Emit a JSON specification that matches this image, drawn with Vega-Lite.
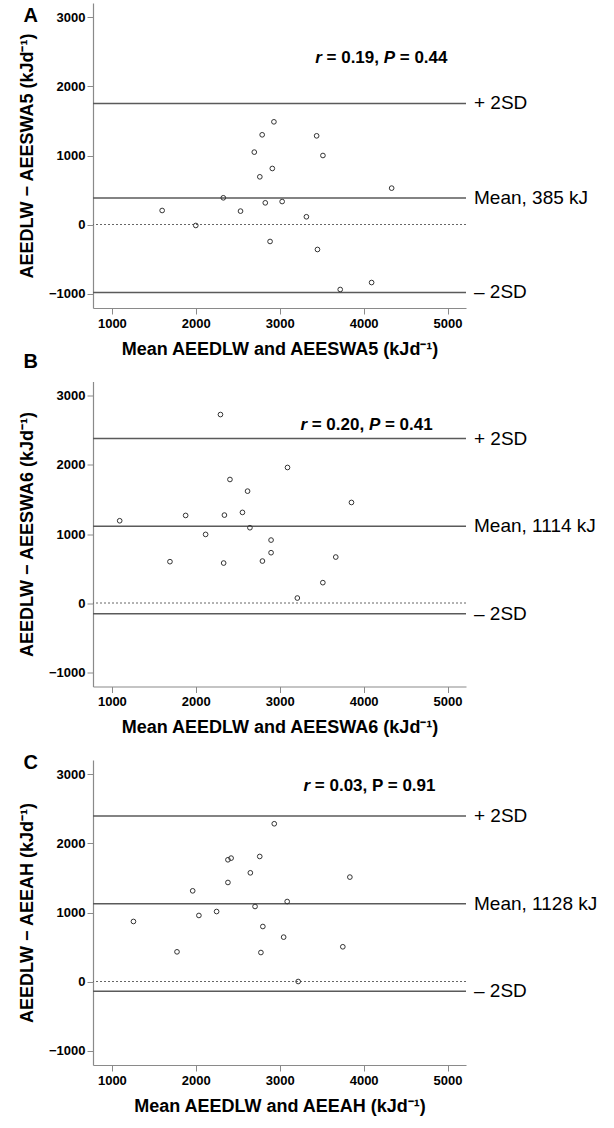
{
  "$schema": "https://vega.github.io/schema/vega-lite/v6.json",
  "background": "white",
  "padding": {"left": 18, "top": 3, "right": 2, "bottom": 2},
  "spacing": 73.5,
  "bounds": "flush",
  "config": {
    "view": {"stroke": null},
    "font": "Liberation Sans",
    "axis": {"grid": false, "domainColor": "#8a8a8a", "domainWidth": 1.2, "tickColor": "#8a8a8a", "tickSize": 6, "labelFont": "Liberation Sans", "labelFontSize": 13, "labelFontWeight": "bold", "labelColor": "#000000", "labelPadding": 2, "format": "d", "titleFont": "Liberation Sans", "titleFontSize": 18, "titleFontWeight": "bold", "titleColor": "#000000"},
    "axisX": {"labelPadding": 3, "titlePadding": 10, "titleFontSize": 18},
    "axisY": {"titlePadding": 12},
    "title": {"anchor": "start", "frame": "bounds", "fontSize": 20, "fontWeight": "bold", "font": "Liberation Sans", "color": "#000000", "offset": 0, "baseline": "alphabetic"}
  },
  "datasets": {
    "points": [
      {"panel": "A", "mean": 1599, "diff": 203},
      {"panel": "A", "mean": 2000, "diff": -14},
      {"panel": "A", "mean": 2328, "diff": 387},
      {"panel": "A", "mean": 2533, "diff": 194},
      {"panel": "A", "mean": 2697, "diff": 1049},
      {"panel": "A", "mean": 2763, "diff": 691},
      {"panel": "A", "mean": 2791, "diff": 1300},
      {"panel": "A", "mean": 2828, "diff": 314},
      {"panel": "A", "mean": 2885, "diff": -246},
      {"panel": "A", "mean": 2912, "diff": 812},
      {"panel": "A", "mean": 2931, "diff": 1488},
      {"panel": "A", "mean": 3029, "diff": 333},
      {"panel": "A", "mean": 3318, "diff": 112},
      {"panel": "A", "mean": 3440, "diff": 1285},
      {"panel": "A", "mean": 3450, "diff": -362},
      {"panel": "A", "mean": 3515, "diff": 1000},
      {"panel": "A", "mean": 3721, "diff": -942},
      {"panel": "A", "mean": 4095, "diff": -841},
      {"panel": "A", "mean": 4334, "diff": 527},
      {"panel": "B", "mean": 1093, "diff": 1192},
      {"panel": "B", "mean": 1692, "diff": 599},
      {"panel": "B", "mean": 1879, "diff": 1269},
      {"panel": "B", "mean": 2117, "diff": 994},
      {"panel": "B", "mean": 2294, "diff": 2731},
      {"panel": "B", "mean": 2332, "diff": 579},
      {"panel": "B", "mean": 2341, "diff": 1274},
      {"panel": "B", "mean": 2407, "diff": 1790},
      {"panel": "B", "mean": 2556, "diff": 1313},
      {"panel": "B", "mean": 2617, "diff": 1621},
      {"panel": "B", "mean": 2645, "diff": 1091},
      {"panel": "B", "mean": 2794, "diff": 608},
      {"panel": "B", "mean": 2897, "diff": 912},
      {"panel": "B", "mean": 2897, "diff": 729},
      {"panel": "B", "mean": 3093, "diff": 1964},
      {"panel": "B", "mean": 3210, "diff": 72},
      {"panel": "B", "mean": 3514, "diff": 295},
      {"panel": "B", "mean": 3668, "diff": 666},
      {"panel": "B", "mean": 3855, "diff": 1457},
      {"panel": "C", "mean": 1257, "diff": 870},
      {"panel": "C", "mean": 1776, "diff": 430},
      {"panel": "C", "mean": 1963, "diff": 1314},
      {"panel": "C", "mean": 2037, "diff": 957},
      {"panel": "C", "mean": 2248, "diff": 1014},
      {"panel": "C", "mean": 2383, "diff": 1764},
      {"panel": "C", "mean": 2383, "diff": 1435},
      {"panel": "C", "mean": 2421, "diff": 1788},
      {"panel": "C", "mean": 2650, "diff": 1575},
      {"panel": "C", "mean": 2706, "diff": 1087},
      {"panel": "C", "mean": 2762, "diff": 1812},
      {"panel": "C", "mean": 2776, "diff": 420},
      {"panel": "C", "mean": 2799, "diff": 797},
      {"panel": "C", "mean": 2935, "diff": 2286},
      {"panel": "C", "mean": 3047, "diff": 643},
      {"panel": "C", "mean": 3089, "diff": 1159},
      {"panel": "C", "mean": 3220, "diff": 0},
      {"panel": "C", "mean": 3752, "diff": 503},
      {"panel": "C", "mean": 3836, "diff": 1513}
    ],
    "lines": [
      {"panel": "A", "kind": "zero", "diff": 0, "label": ""},
      {"panel": "A", "kind": "upper", "diff": 1755, "label": "+ 2SD"},
      {"panel": "A", "kind": "mean", "diff": 385, "label": "Mean, 385 kJ"},
      {"panel": "A", "kind": "lower", "diff": -985, "label": "– 2SD"},
      {"panel": "B", "kind": "zero", "diff": 0, "label": ""},
      {"panel": "B", "kind": "upper", "diff": 2383, "label": "+ 2SD"},
      {"panel": "B", "kind": "mean", "diff": 1114, "label": "Mean, 1114 kJ"},
      {"panel": "B", "kind": "lower", "diff": -155, "label": "– 2SD"},
      {"panel": "C", "kind": "zero", "diff": 0, "label": ""},
      {"panel": "C", "kind": "upper", "diff": 2398, "label": "+ 2SD"},
      {"panel": "C", "kind": "mean", "diff": 1128, "label": "Mean, 1128 kJ"},
      {"panel": "C", "kind": "lower", "diff": -142, "label": "– 2SD"}
    ]
  },
  "vconcat": [
    {
      "width": 373, "height": 305,
      "title": {"text": "A", "dx": 5, "dy": 27},
      "layer": [
        {"data": {"name": "lines"}, "transform": [{"filter": "datum.panel === 'A' && datum.kind === 'zero'"}],
         "mark": {"type": "rule", "color": "#666666", "strokeWidth": 1, "strokeDash": [2, 2]},
         "encoding": {"y": {"field": "diff", "type": "quantitative", "scale": {"domain": [-1210, 3210], "nice": false, "zero": false}}}},
        {"data": {"name": "lines"}, "transform": [{"filter": "datum.panel === 'A' && datum.kind !== 'zero'"}],
         "mark": {"type": "rule", "color": "#5a5a5a", "strokeWidth": 1.5},
         "encoding": {"y": {"field": "diff", "type": "quantitative", "scale": {"domain": [-1210, 3210], "nice": false, "zero": false}}}},
        {"data": {"name": "lines"}, "transform": [{"filter": "datum.panel === 'A' && datum.kind !== 'zero'"}],
         "mark": {"type": "text", "align": "left", "baseline": "middle", "dx": 8, "fontSize": 19, "font": "Liberation Sans", "color": "#000000"},
         "encoding": {"x": {"datum": 5220, "type": "quantitative", "scale": {"domain": [775, 5220], "nice": false, "zero": false}},
                      "y": {"field": "diff", "type": "quantitative", "scale": {"domain": [-1210, 3210], "nice": false, "zero": false}},
                      "text": {"field": "label"}}},
        {"data": {"name": "points"}, "transform": [{"filter": "datum.panel === 'A'"}],
         "mark": {"type": "point", "shape": "circle", "filled": false, "size": 22, "stroke": "#333333", "strokeWidth": 1, "opacity": 1},
         "encoding": {"x": {"field": "mean", "type": "quantitative", "scale": {"domain": [775, 5220], "nice": false, "zero": false},
                            "axis": {"title": "Mean AEEDLW  and AEESWA5 (kJd⁻¹)", "values": [1000, 2000, 3000, 4000, 5000]}},
                      "y": {"field": "diff", "type": "quantitative", "scale": {"domain": [-1210, 3210], "nice": false, "zero": false},
                            "axis": {"title": "AEEDLW − AEESWA5 (kJd⁻¹)", "values": [-1000, 0, 1000, 2000, 3000]}}}},
        {"data": {"values": [{"label": "r"}]},
         "mark": {"type": "text", "align": "left", "baseline": "middle", "dx": -66, "fontSize": 17, "fontWeight": "bold", "fontStyle": "italic", "font": "Liberation Sans", "color": "#000000"},
         "encoding": {"x": {"datum": 4210, "type": "quantitative", "scale": {"domain": [775, 5220], "nice": false, "zero": false}},
                      "y": {"datum": 2416, "type": "quantitative", "scale": {"domain": [-1210, 3210], "nice": false, "zero": false}},
                      "text": {"field": "label"}}},
        {"data": {"values": [{"label": "= 0.19,"}]},
         "mark": {"type": "text", "align": "left", "baseline": "middle", "dx": -54.7, "fontSize": 17, "fontWeight": "bold", "font": "Liberation Sans", "color": "#000000"},
         "encoding": {"x": {"datum": 4210, "type": "quantitative", "scale": {"domain": [775, 5220], "nice": false, "zero": false}},
                      "y": {"datum": 2416, "type": "quantitative", "scale": {"domain": [-1210, 3210], "nice": false, "zero": false}},
                      "text": {"field": "label"}}},
        {"data": {"values": [{"label": "P"}]},
         "mark": {"type": "text", "align": "left", "baseline": "middle", "dx": 2.5, "fontSize": 17, "fontWeight": "bold", "fontStyle": "italic", "font": "Liberation Sans", "color": "#000000"},
         "encoding": {"x": {"datum": 4210, "type": "quantitative", "scale": {"domain": [775, 5220], "nice": false, "zero": false}},
                      "y": {"datum": 2416, "type": "quantitative", "scale": {"domain": [-1210, 3210], "nice": false, "zero": false}},
                      "text": {"field": "label"}}},
        {"data": {"values": [{"label": "= 0.44"}]},
         "mark": {"type": "text", "align": "left", "baseline": "middle", "dx": 18.5, "fontSize": 17, "fontWeight": "bold", "font": "Liberation Sans", "color": "#000000"},
         "encoding": {"x": {"datum": 4210, "type": "quantitative", "scale": {"domain": [775, 5220], "nice": false, "zero": false}},
                      "y": {"datum": 2416, "type": "quantitative", "scale": {"domain": [-1210, 3210], "nice": false, "zero": false}},
                      "text": {"field": "label"}}}
      ]
    },
    {
      "width": 373, "height": 305,
      "title": {"text": "B", "dx": 5, "dy": -6},
      "layer": [
        {"data": {"name": "lines"}, "transform": [{"filter": "datum.panel === 'B' && datum.kind === 'zero'"}],
         "mark": {"type": "rule", "color": "#666666", "strokeWidth": 1, "strokeDash": [2, 2]},
         "encoding": {"y": {"field": "diff", "type": "quantitative", "scale": {"domain": [-1210, 3210], "nice": false, "zero": false}}}},
        {"data": {"name": "lines"}, "transform": [{"filter": "datum.panel === 'B' && datum.kind !== 'zero'"}],
         "mark": {"type": "rule", "color": "#5a5a5a", "strokeWidth": 1.5},
         "encoding": {"y": {"field": "diff", "type": "quantitative", "scale": {"domain": [-1210, 3210], "nice": false, "zero": false}}}},
        {"data": {"name": "lines"}, "transform": [{"filter": "datum.panel === 'B' && datum.kind !== 'zero'"}],
         "mark": {"type": "text", "align": "left", "baseline": "middle", "dx": 8, "fontSize": 19, "font": "Liberation Sans", "color": "#000000"},
         "encoding": {"x": {"datum": 5220, "type": "quantitative", "scale": {"domain": [775, 5220], "nice": false, "zero": false}},
                      "y": {"field": "diff", "type": "quantitative", "scale": {"domain": [-1210, 3210], "nice": false, "zero": false}},
                      "text": {"field": "label"}}},
        {"data": {"name": "points"}, "transform": [{"filter": "datum.panel === 'B'"}],
         "mark": {"type": "point", "shape": "circle", "filled": false, "size": 22, "stroke": "#333333", "strokeWidth": 1, "opacity": 1},
         "encoding": {"x": {"field": "mean", "type": "quantitative", "scale": {"domain": [775, 5220], "nice": false, "zero": false},
                            "axis": {"title": "Mean AEEDLW  and AEESWA6 (kJd⁻¹)", "values": [1000, 2000, 3000, 4000, 5000]}},
                      "y": {"field": "diff", "type": "quantitative", "scale": {"domain": [-1210, 3210], "nice": false, "zero": false},
                            "axis": {"title": "AEEDLW − AEESWA6 (kJd⁻¹)", "values": [-1000, 0, 1000, 2000, 3000]}}}},
        {"data": {"values": [{"label": "r"}]},
         "mark": {"type": "text", "align": "left", "baseline": "middle", "dx": -66, "fontSize": 17, "fontWeight": "bold", "fontStyle": "italic", "font": "Liberation Sans", "color": "#000000"},
         "encoding": {"x": {"datum": 4033, "type": "quantitative", "scale": {"domain": [775, 5220], "nice": false, "zero": false}},
                      "y": {"datum": 2582, "type": "quantitative", "scale": {"domain": [-1210, 3210], "nice": false, "zero": false}},
                      "text": {"field": "label"}}},
        {"data": {"values": [{"label": "= 0.20,"}]},
         "mark": {"type": "text", "align": "left", "baseline": "middle", "dx": -54.7, "fontSize": 17, "fontWeight": "bold", "font": "Liberation Sans", "color": "#000000"},
         "encoding": {"x": {"datum": 4033, "type": "quantitative", "scale": {"domain": [775, 5220], "nice": false, "zero": false}},
                      "y": {"datum": 2582, "type": "quantitative", "scale": {"domain": [-1210, 3210], "nice": false, "zero": false}},
                      "text": {"field": "label"}}},
        {"data": {"values": [{"label": "P"}]},
         "mark": {"type": "text", "align": "left", "baseline": "middle", "dx": 2.5, "fontSize": 17, "fontWeight": "bold", "fontStyle": "italic", "font": "Liberation Sans", "color": "#000000"},
         "encoding": {"x": {"datum": 4033, "type": "quantitative", "scale": {"domain": [775, 5220], "nice": false, "zero": false}},
                      "y": {"datum": 2582, "type": "quantitative", "scale": {"domain": [-1210, 3210], "nice": false, "zero": false}},
                      "text": {"field": "label"}}},
        {"data": {"values": [{"label": "= 0.41"}]},
         "mark": {"type": "text", "align": "left", "baseline": "middle", "dx": 18.5, "fontSize": 17, "fontWeight": "bold", "font": "Liberation Sans", "color": "#000000"},
         "encoding": {"x": {"datum": 4033, "type": "quantitative", "scale": {"domain": [775, 5220], "nice": false, "zero": false}},
                      "y": {"datum": 2582, "type": "quantitative", "scale": {"domain": [-1210, 3210], "nice": false, "zero": false}},
                      "text": {"field": "label"}}}
      ]
    },
    {
      "width": 373, "height": 305,
      "title": {"text": "C", "dx": 5, "dy": 17},
      "layer": [
        {"data": {"name": "lines"}, "transform": [{"filter": "datum.panel === 'C' && datum.kind === 'zero'"}],
         "mark": {"type": "rule", "color": "#666666", "strokeWidth": 1, "strokeDash": [2, 2]},
         "encoding": {"y": {"field": "diff", "type": "quantitative", "scale": {"domain": [-1210, 3210], "nice": false, "zero": false}}}},
        {"data": {"name": "lines"}, "transform": [{"filter": "datum.panel === 'C' && datum.kind !== 'zero'"}],
         "mark": {"type": "rule", "color": "#5a5a5a", "strokeWidth": 1.5},
         "encoding": {"y": {"field": "diff", "type": "quantitative", "scale": {"domain": [-1210, 3210], "nice": false, "zero": false}}}},
        {"data": {"name": "lines"}, "transform": [{"filter": "datum.panel === 'C' && datum.kind !== 'zero'"}],
         "mark": {"type": "text", "align": "left", "baseline": "middle", "dx": 8, "fontSize": 19, "font": "Liberation Sans", "color": "#000000"},
         "encoding": {"x": {"datum": 5220, "type": "quantitative", "scale": {"domain": [775, 5220], "nice": false, "zero": false}},
                      "y": {"field": "diff", "type": "quantitative", "scale": {"domain": [-1210, 3210], "nice": false, "zero": false}},
                      "text": {"field": "label"}}},
        {"data": {"name": "points"}, "transform": [{"filter": "datum.panel === 'C'"}],
         "mark": {"type": "point", "shape": "circle", "filled": false, "size": 22, "stroke": "#333333", "strokeWidth": 1, "opacity": 1},
         "encoding": {"x": {"field": "mean", "type": "quantitative", "scale": {"domain": [775, 5220], "nice": false, "zero": false},
                            "axis": {"title": "Mean AEEDLW  and AEEAH (kJd⁻¹)", "values": [1000, 2000, 3000, 4000, 5000]}},
                      "y": {"field": "diff", "type": "quantitative", "scale": {"domain": [-1210, 3210], "nice": false, "zero": false},
                            "axis": {"title": "AEEDLW − AEEAH (kJd⁻¹)", "values": [-1000, 0, 1000, 2000, 3000]}}}},
        {"data": {"values": [{"label": "r"}]},
         "mark": {"type": "text", "align": "left", "baseline": "middle", "dx": -66, "fontSize": 17, "fontWeight": "bold", "fontStyle": "italic", "font": "Liberation Sans", "color": "#000000"},
         "encoding": {"x": {"datum": 4070, "type": "quantitative", "scale": {"domain": [775, 5220], "nice": false, "zero": false}},
                      "y": {"datum": 2826, "type": "quantitative", "scale": {"domain": [-1210, 3210], "nice": false, "zero": false}},
                      "text": {"field": "label"}}},
        {"data": {"values": [{"label": "= 0.03, P = 0.91"}]},
         "mark": {"type": "text", "align": "left", "baseline": "middle", "dx": -54.7, "fontSize": 17, "fontWeight": "bold", "font": "Liberation Sans", "color": "#000000"},
         "encoding": {"x": {"datum": 4070, "type": "quantitative", "scale": {"domain": [775, 5220], "nice": false, "zero": false}},
                      "y": {"datum": 2826, "type": "quantitative", "scale": {"domain": [-1210, 3210], "nice": false, "zero": false}},
                      "text": {"field": "label"}}}
      ]
    }
  ]
}
